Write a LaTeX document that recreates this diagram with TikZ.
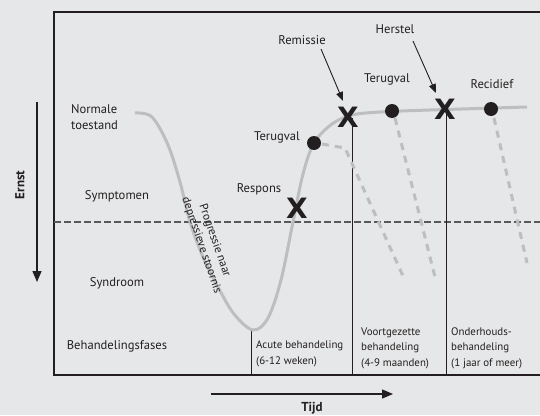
\documentclass[tikz,border=0pt]{standalone}
\usepackage{fontspec}
\setmainfont{PT Sans}
\newfontfamily\xfont{DejaVu Sans}
\usetikzlibrary{arrows.meta}
\definecolor{bg}{HTML}{E6E7E8}
\definecolor{ink}{HTML}{231F20}
\definecolor{curvegray}{HTML}{BCBEC0}
\definecolor{dashgray}{HTML}{58595B}
\begin{document}
\begin{tikzpicture}[x=1pt,y=-1pt,
  lbl/.style={font=\fontsize{12.6}{16}\selectfont, text=ink, inner sep=0pt, align=left},
  phase/.style={font=\fontsize{10.9}{15.5}\selectfont, text=ink, inner sep=0pt, align=left, anchor=west},
  axislbl/.style={font=\fontsize{13}{14}\selectfont\bfseries, text=ink, inner sep=0pt},
  xmark/.style={font=\xfont\fontsize{28}{28}\selectfont\bfseries, text=ink, inner sep=0pt},
  dotmark/.style={circle, fill=ink, minimum size=14pt, inner sep=0pt},
  frameline/.style={draw=ink, line width=1.3pt},
  course/.style={draw=curvegray, line width=3pt},
  relapse/.style={draw=curvegray, line width=3pt, dash pattern=on 7pt off 6pt},
  pointer/.style={draw=ink, line width=0.9pt, -{Triangle[length=9pt,width=7pt]}},
  axisarrow/.style={draw=ink, line width=1.3pt, -{Triangle[length=11pt,width=9pt]}}]
\fill[bg] (0,0) rectangle (540,415);
\useasboundingbox (0,0) rectangle (540,415);

% frame
\draw[frameline] (540,12) -- (54,12) -- (54,375) -- (540,375);
\draw[dashgray, line width=1.3pt, dash pattern=on 7pt off 3pt] (54,222) -- (540,222);

% phase separators
\coordinate (b1) at (251,330);
\coordinate (b1e) at (251,375);
\coordinate (b2) at (352,118);
\coordinate (b2e) at (352,375);
\coordinate (b3) at (446,112);
\coordinate (b3e) at (446,375);
\draw[ink, line width=0.9pt] (b1) -- (b1e);
\draw[ink, line width=0.9pt] (b2) -- (b2e);
\draw[ink, line width=0.9pt] (b3) -- (b3e);

% relapse dashed lines
\coordinate (r1a) at (322,144);
\coordinate (r1b) at (345,148);
\coordinate (r1c) at (403,276);
\coordinate (r2a) at (395,118);
\coordinate (r2b) at (435,277);
\coordinate (r3a) at (494,118);
\coordinate (r3b) at (527,263);
\draw[relapse] (r1a) -- (r1b) -- (r1c);
\draw[relapse] (r2a) -- (r2b);
\draw[relapse] (r3a) -- (r3b);

% course of illness
\draw[course] plot[smooth, tension=0.55] coordinates {
  (135,113) (152,117) (168,145) (180,182) (190,222) (203,257) (218,287)
  (234,314) (253,330) (268,318) (281,280) (293,222) (303,174) (314,143)
  (332,124) (352,115) (380,112) (430,110) (527,107)};

% markers
\node[xmark] (xresp) at (297,208) {X};
\node[xmark] (xrem) at (348,117) {X};
\node[xmark] (xher) at (445,109) {X};
\node[dotmark] (d1) at (314,143) {};
\node[dotmark] (d2) at (392,111) {};
\node[dotmark] (d3) at (491,109) {};

% labels
\node[lbl, anchor=west] (norm) at (71,117) {Normale\\toestand};
\node[lbl] (sympt) at (117,196) {Symptomen};
\node[lbl] (synd) at (117,283) {Syndroom};
\node[lbl] (behf) at (117,346) {Behandelingsfases};
\node[lbl] (resp) at (259,189) {Respons};
\node[lbl] (terug1) at (277,137) {Terugval};
\node[lbl] (terug2) at (387,79) {Terugval};
\node[lbl] (remis) at (302,40) {Remissie};
\node[lbl] (herst) at (395,29) {Herstel};
\node[lbl] (recid) at (492,84) {Recidief};

\node[font=\fontsize{11.6}{14}\selectfont, text=ink, inner sep=0pt, align=center, rotate=-71] (prog) at (208,243) {Progressie naar\\depressieve stoornis};

% phase labels
\node[phase] (ph1) at (256,354) {Acute behandeling\\(6-12 weken)};
\node[phase] (ph2) at (361,348) {Voortgezette\\behandeling\\(4-9 maanden)};
\node[phase] (ph3) at (451,348) {Onderhouds-\\behandeling\\(1 jaar of meer)};

% pointers
\coordinate (remstart) at (321,49);
\coordinate (remend) at (343,101);
\coordinate (herstart) at (413,41);
\coordinate (herend) at (436,93);
\draw[pointer] (remstart) -- (remend);
\draw[pointer] (herstart) -- (herend);

% axes
\coordinate (e1) at (37,102);
\coordinate (e2) at (37,282);
\draw[axisarrow] (e1) -- (e2);
\node[axislbl, rotate=90] (ernst) at (20,185) {Ernst};
\coordinate (t1) at (211,394);
\coordinate (t2) at (393,394);
\draw[axisarrow] (t1) -- (t2);
\node[axislbl] (tijd) at (312,408) {Tijd};
\end{tikzpicture}
\end{document}
